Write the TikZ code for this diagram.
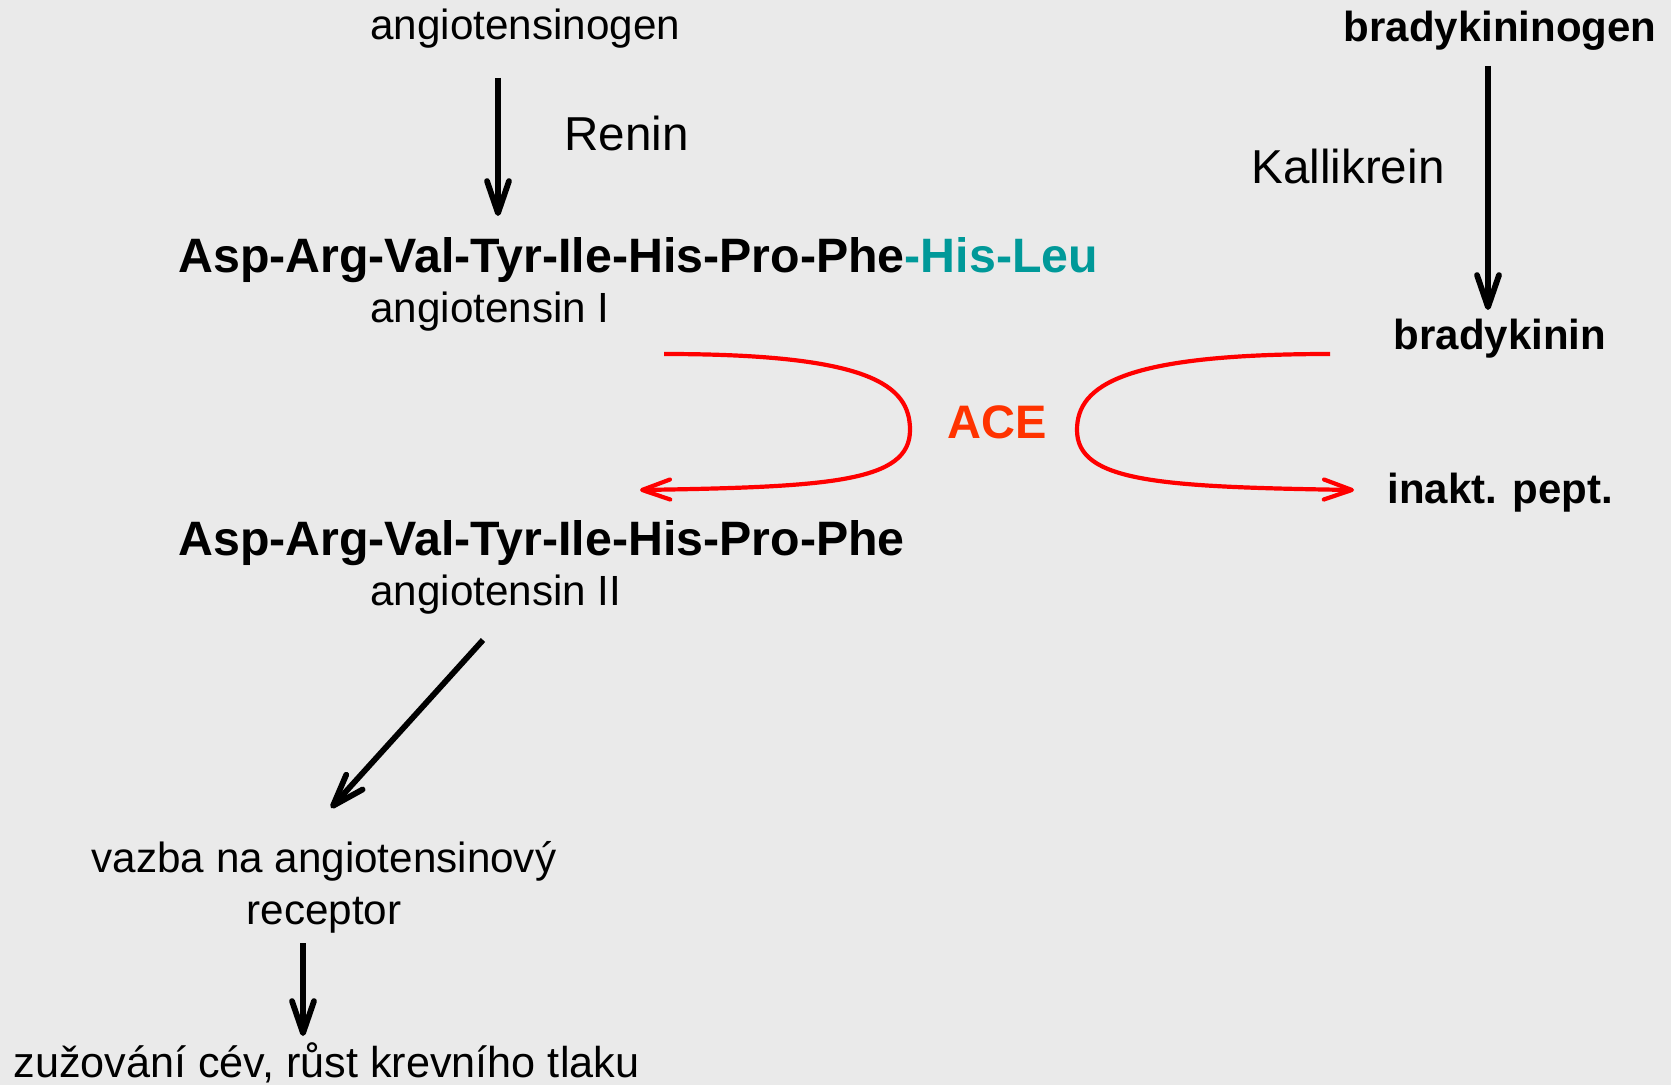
\documentclass[tikz,border=0pt]{standalone}
\usepackage{fontspec}
\setmainfont{Liberation Sans}
\usetikzlibrary{arrows.meta}
\definecolor{bgcol}{HTML}{EAEAEA}
\definecolor{tealcol}{HTML}{009999}
\definecolor{acecol}{HTML}{FF3300}
\definecolor{redcol}{HTML}{FF0000}
\begin{document}
\begin{tikzpicture}[x=0.5pt,y=-0.5pt,
  txt/.style={inner sep=0pt, font=\fontsize{21.1}{26}\selectfont},
  btxt/.style={inner sep=0pt, font=\fontsize{21}{26}\selectfont\bfseries},
  enz/.style={inner sep=0pt, font=\fontsize{23.8}{28}\selectfont},
  pep/.style={inner sep=0pt, font=\fontsize{24.15}{29}\selectfont\bfseries},
  blkarrow/.style={line width=2.9pt, -{Straight Barb[length=16pt,width=11pt,round]}},
  redarrow/.style={draw=redcol, line width=2.1pt, -{Straight Barb[length=14pt,width=10pt,round]}}]
\useasboundingbox[fill=bgcol] (0,0) rectangle (1671,1085);

% texts
\node[txt, anchor=base west] (agen) at (370,40) {angiotensinogen};
\node[enz, anchor=base west] (renin) at (564,151) {Renin};
\node[btxt, anchor=base east] (bkgen) at (1657,42) {bradykininogen};
\node[enz, anchor=base west] (kall) at (1251,184) {Kallikrein};
\node[pep, anchor=base west] (ang1seq) at (178,273) {Asp-Arg-Val-Tyr-Ile-His-Pro-Phe\textcolor{tealcol}{-His-Leu}};
\node[txt, anchor=base west] (ang1) at (370,323) {angiotensin I};
\node[btxt, anchor=base] (bk) at (1500,350) {bradykinin};
\node[inner sep=0pt, font=\fontsize{23.5}{28}\selectfont\bfseries, text=acecol, anchor=base] (ace) at (997,439) {ACE};
\node[btxt, anchor=base west] (inakt) at (1387,503) {inakt. pept.};
\node[pep, anchor=base west] (ang2seq) at (178,555) {Asp-Arg-Val-Tyr-Ile-His-Pro-Phe};
\node[txt, anchor=base west] (ang2) at (370,605) {angiotensin II};
\node[txt, anchor=base] (vazba) at (324,872) {vazba na angiotensinový};
\node[txt, anchor=base] (recep) at (324,924) {receptor};
\node[inner sep=0pt, font=\fontsize{21.6}{26}\selectfont, anchor=base west] (zuz) at (13,1077) {zužování cév, růst krevního tlaku};

% connector end points
\coordinate (a1s) at (498,78);
\coordinate (a1e) at (498,216);
\coordinate (a2s) at (1488,66);
\coordinate (a2e) at (1488,310);
\coordinate (a3s) at (483,640);
\coordinate (a3e) at (331,808);
\coordinate (a4s) at (303,943);
\coordinate (a4e) at (303,1036);
\coordinate (l1s) at (664,354);
\coordinate (l1e) at (640,490);
\coordinate (r1s) at (1330,354);
\coordinate (r1e) at (1354,490);

\draw[blkarrow] (a1s) -- (a1e);
\draw[blkarrow] (a2s) -- (a2e);
\draw[blkarrow] (a3s) -- (a3e);
\draw[blkarrow] (a4s) -- (a4e);

\draw[redarrow] (l1s) .. controls (870,354) and (910,385) .. (910,430)
  .. controls (910,482) and (830,487) .. (l1e);
\draw[redarrow] (r1s) .. controls (1124,354) and (1077,385) .. (1077,430)
  .. controls (1077,482) and (1160,487) .. (r1e);
\end{tikzpicture}
\end{document}
